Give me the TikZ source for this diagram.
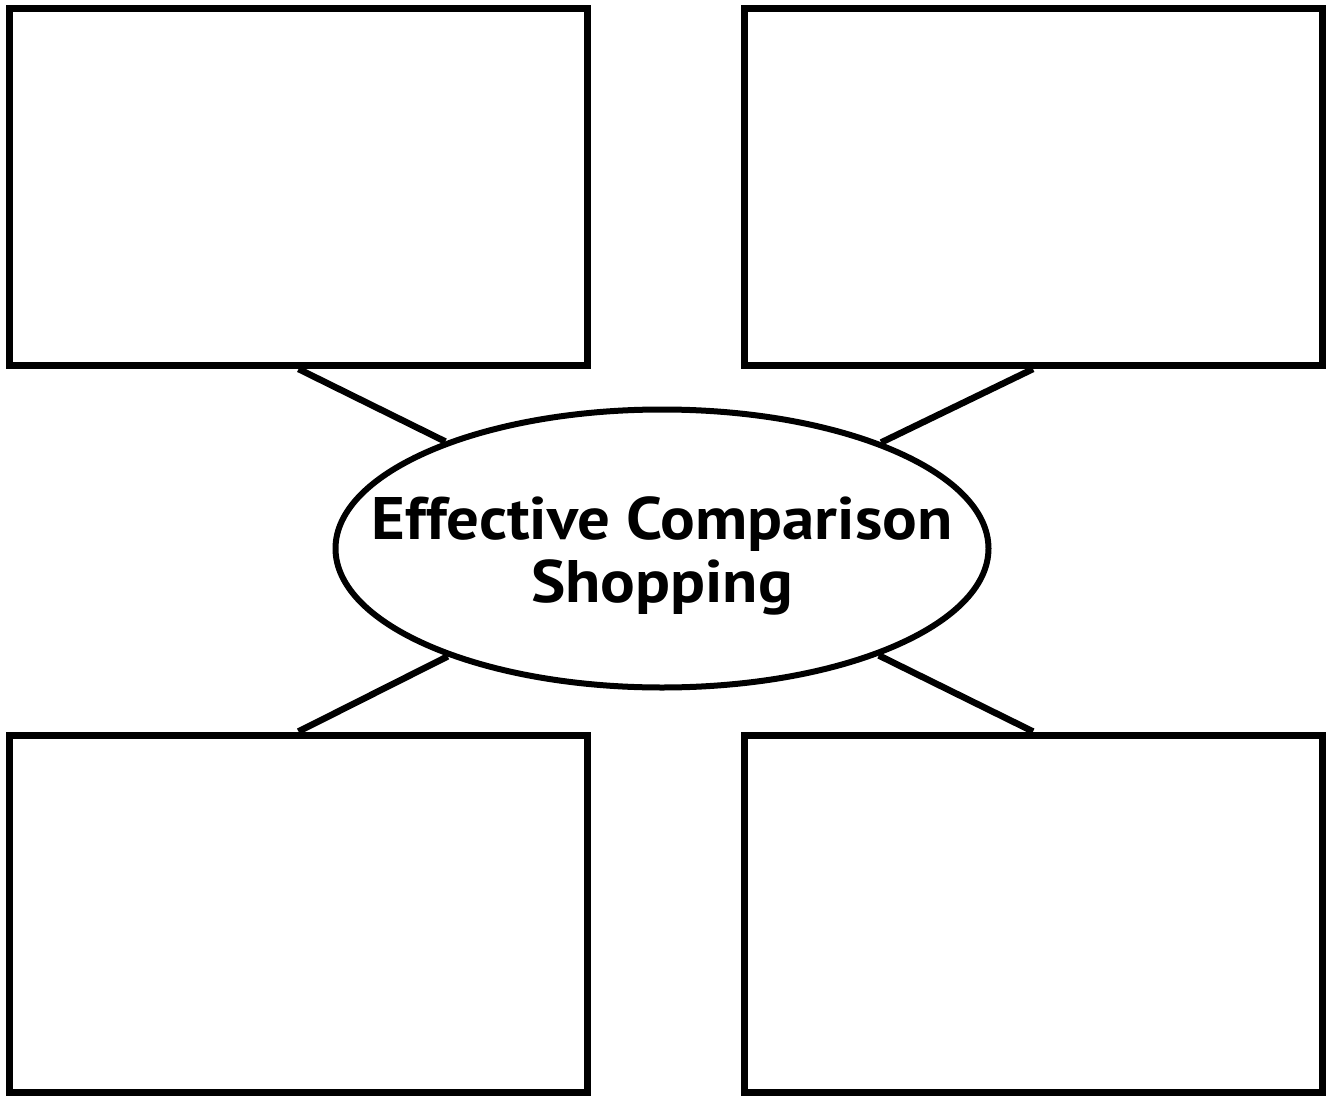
\documentclass[tikz,border=0pt]{standalone}
\usepackage{fontspec}
\newfontfamily\hubfont[FakeStretch=1.08]{PT Sans}
\usetikzlibrary{shapes.geometric}
\begin{document}
\begin{tikzpicture}[x=1pt,y=-1pt,
  box/.style={draw=black,line width=7pt,rectangle,minimum width=578pt,minimum height=357pt,inner sep=0pt},
  hub/.style={draw=black,line width=6pt,ellipse,minimum width=653pt,minimum height=278pt,inner sep=0pt},
  hubtext/.style={font=\hubfont\bfseries\fontsize{60}{63}\selectfont,align=center,inner sep=0pt},
  link/.style={draw=black,line width=6.5pt}]
\useasboundingbox (0,0) rectangle (1328,1097);
\fill[white] (0,0) rectangle (1328,1097);
\node[box] (tl) at (298.5,187) {};
\node[box] (tr) at (1033,187) {};
\node[box] (bl) at (298.5,913.5) {};
\node[box] (br) at (1033,913.5) {};
\node[hub] (hub) at (662,548.5) {};
\node[hubtext] (title) at (662,556) {Effective Comparison\\Shopping};
\draw[link] (tl.south) -- (hub);
\draw[link] (tr.south) -- (hub);
\draw[link] (bl.north) -- (hub);
\draw[link] (br.north) -- (hub);
\end{tikzpicture}
\end{document}
